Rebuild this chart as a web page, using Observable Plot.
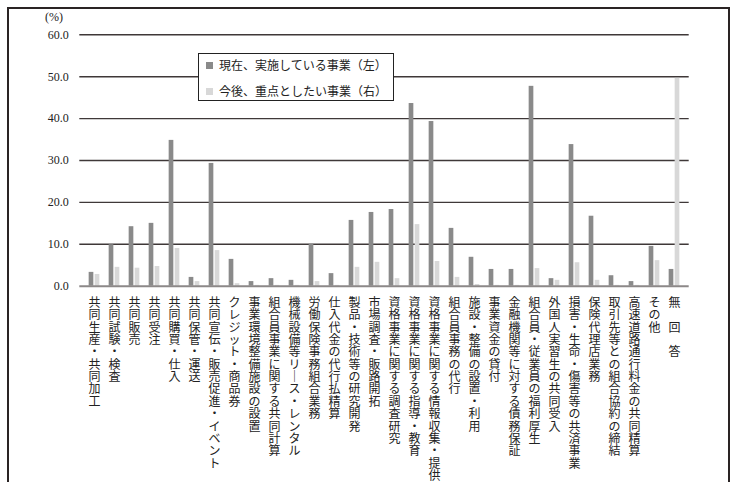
<!DOCTYPE html>
<html>
<head>
<meta charset="utf-8">
<script src="https://cdn.jsdelivr.net/npm/d3@7"></script>
<script src="https://cdn.jsdelivr.net/npm/@observablehq/plot@0.6"></script>
<style>
  html, body { margin: 0; padding: 0; background: #fff; }
  #wrap { position: relative; width: 734px; height: 482px; overflow: hidden; }
  #frame { position: absolute; left: 7px; top: 7px; width: 719px; height: 480px; border: 2px solid #2a2424; pointer-events: none; }
  #unit { position: absolute; left: 45px; top: 10px; font: 12px "Liberation Serif", serif; color: #222; }
  #legend { position: absolute; left: 198px; top: 53px; width: 194px; height: 46px; background: #fff; border: 1px solid #222; font-family: "Noto Sans CJK JP", sans-serif; font-size: 12px; color: #222; }
  .lrow { position: absolute; left: 7px; height: 14px; line-height: 14px; white-space: nowrap; }
  .sw { display: inline-block; width: 7px; height: 7px; margin-right: 6px; vertical-align: 1px; }
</style>
</head>
<body>
<div id="wrap">
  <div id="chart"></div>
  <div id="unit">(%)</div>
  <div id="legend"></div>
  <div id="frame"></div>
</div>
<script>
const categories = [
  "共同生産・共同加工", "共同試験・検査", "共同販売", "共同受注", "共同購買・仕入",
  "共同保管・運送", "共同宣伝・販売促進・イベント", "クレジット・商品券", "事業環境整備施設の設置", "組合員事業に関する共同計算",
  "機械設備等リース・レンタル", "労働保険事務組合業務", "仕入代金の代行払精算", "製品・技術等の研究開発", "市場調査・販路開拓",
  "資格事業に関する調査研究", "資格事業に関する指導・教育", "資格事業に関する情報収集・提供", "組合員事務の代行", "施設・整備の設置・利用",
  "事業資金の貸付", "金融機関等に対する債務保証", "組合員・従業員の福利厚生", "外国人実習生の共同受入", "損害・生命・傷害等の共済事業",
  "保険代理店業務", "取引先等との組合協約の締結", "高速道路通行料金の共同精算", "その他", "無　回　答"
];
const currentValues = [
  3.3, 9.9, 14.2, 15.0, 34.8,
  2.1, 29.3, 6.4, 1.1, 1.8,
  1.4, 10.0, 3.0, 15.7, 17.6,
  18.3, 43.6, 39.3, 13.8, 6.9,
  4.0, 4.0, 47.7, 1.8, 33.8,
  16.7, 2.5, 1.1, 9.5, 4.0
];
const futureValues = [
  2.8, 4.5, 4.3, 4.7, 9.0,
  1.1, 8.5, 0.6, 0.2, 0.2,
  0.2, 1.1, 0.2, 4.5, 5.7,
  1.8, 14.7, 5.9, 2.1, 0.4,
  0.2, 0.2, 4.2, 1.4, 5.6,
  1.4, 0.2, 0.2, 6.1, 49.6
];
const seriesNames = ["現在、実施している事業（左）", "今後、重点としたい事業（右）"];
const seriesColors = ["#8a8a8a", "#d8d8d8"];
const yTicks = [0, 10, 20, 30, 40, 50, 60];

const rows = categories.map((c, i) => ({cat: c, cur: currentValues[i], fut: futureValues[i]}));

// vertical (tategaki) label: one character per line, long-vowel mark turned vertical
const verticalText = s => Array.from(s).map(ch => ch === "ー" ? "｜" : ch).join("\n");

const plot = Plot.plot({
  width: 734,
  height: 482,
  marginLeft: 79.3,
  marginRight: 45.3,
  marginTop: 34.3,
  marginBottom: 196.3,
  style: {fontFamily: "'Liberation Serif', serif", fontSize: "12px", color: "#222", background: "transparent"},
  x: {domain: categories, padding: 0, axis: null},
  y: {domain: [0, 60], axis: null},
  marks: [
    Plot.ruleY(yTicks.filter(d => d > 0), {stroke: "#3f3838", strokeWidth: 1.4}),
    Plot.barY(rows, {x: "cat", y: "cur", fill: seriesColors[0], insetLeft: 4.66, insetRight: 10.66}),
    Plot.barY(rows, {x: "cat", y: "fut", fill: seriesColors[1], insetLeft: 10.66, insetRight: 4.66}),
    Plot.ruleY([0], {stroke: "#8c8888", strokeWidth: 2}),
    Plot.axisY({ticks: yTicks, tickFormat: d => d.toFixed(1), tickSize: 0, tickPadding: 11, label: null, fontSize: 12, fontFamily: "'Liberation Serif', serif", fill: "#222"}),
    Plot.text(categories, {
      x: d => d, frameAnchor: "bottom", dy: 12, text: d => verticalText(d),
      lineAnchor: "top", lineHeight: 1.03, textAnchor: "middle",
      fontFamily: "'Noto Sans CJK JP', sans-serif", fontSize: 12, fill: "#222"
    })
  ]
});
document.getElementById("chart").appendChild(plot);

const legend = document.getElementById("legend");
seriesNames.forEach((name, i) => {
  const row = document.createElement("div");
  row.className = "lrow";
  row.style.top = (i === 0 ? 4 : 30) + "px";
  const sw = document.createElement("span");
  sw.className = "sw";
  sw.style.background = seriesColors[i];
  row.appendChild(sw);
  row.appendChild(document.createTextNode(name));
  legend.appendChild(row);
});
</script>
</body>
</html>
